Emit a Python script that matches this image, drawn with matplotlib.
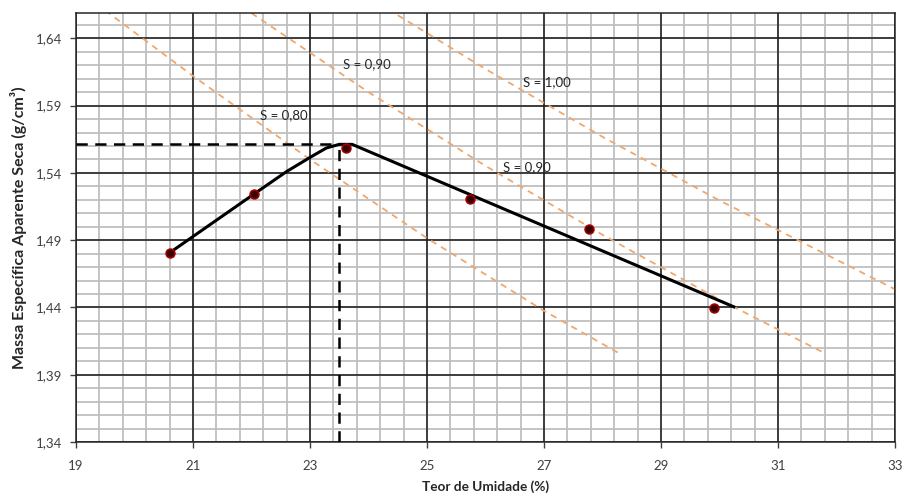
import matplotlib
matplotlib.use("Agg")
import matplotlib.pyplot as plt
import numpy as np
from matplotlib.ticker import FixedLocator, NullLocator

plt.rcParams['font.family'] = ['Lato', 'DejaVu Sans']

# Measured compaction points
umidade = [20.6, 22.04, 23.61, 25.73, 27.77, 29.91]
massa = [1.4806, 1.5242, 1.5587, 1.5205, 1.4983, 1.4398]

# Hand-fitted compaction curve
curva_x = [20.6, 22.04, 22.6, 23.0, 23.28, 23.5, 23.72, 30.27]
curva_y = [1.4806, 1.5242, 1.5410, 1.5515, 1.5585, 1.5612, 1.5612, 1.4400]

# Optimum
w_ot = 23.5
gd_max = 1.5612

# Saturation curves
s80_x = [19.5, 21.0, 23.0, 25.0, 27.0, 28.3]
s80_y = [1.6607, 1.6120, 1.5500, 1.4915, 1.4375, 1.4055]
s90_x = [22.0, 24.0, 26.0, 28.0, 30.0, 31.8]
s90_y = [1.6587, 1.6000, 1.5452, 1.4940, 1.4458, 1.4060]
s100_x = [24.5, 26.0, 28.0, 30.0, 33.0]
s100_y = [1.6572, 1.6172, 1.5668, 1.5195, 1.4535]

labels = ["S = 0,80", "S = 0,90", "S = 1,00", "S = 0,90"]
label_x = [22.15, 23.56, 26.64, 26.30]
label_y = [1.5830, 1.6208, 1.6077, 1.5445]

x_ticks = [19, 21, 23, 25, 27, 29, 31, 33]
y_ticks = [1.34, 1.39, 1.44, 1.49, 1.54, 1.59, 1.64]

x_min, x_max, x_minor = 19, 33, 0.4
y_min, y_max, y_minor = 1.34, 1.6586, 0.01

fig = plt.figure(figsize=(9.03, 4.96), dpi=100)
ax = fig.add_axes([76/903, 1-442/496, (895-76)/903, (442-13.3)/496])

ax.set_xlim(x_min, x_max)
ax.set_ylim(y_min, y_max)

ax.xaxis.set_major_locator(FixedLocator(x_ticks))
ax.yaxis.set_major_locator(FixedLocator(y_ticks))
ax.xaxis.set_minor_locator(NullLocator())
ax.yaxis.set_minor_locator(NullLocator())
ax.set_xticklabels([str(v) for v in x_ticks])
ax.set_yticklabels([f"{v:.2f}".replace('.', ',') for v in y_ticks])

# minor grid (drawn beneath the major grid)
xm = np.arange(x_min, x_max + 1e-9, x_minor)
ym = np.arange(y_min, y_max, y_minor)
ax.vlines(xm, y_min, y_max, colors='#bfbfbf', lw=1.3, zorder=0.1)
ax.hlines(ym, x_min, x_max, colors='#bfbfbf', lw=1.3, zorder=0.1)

ax.grid(which='major', color='#1a1a1a', lw=1.1)
ax.set_axisbelow(True)

ax.tick_params(which='major', direction='out', length=4, width=1, color='#404040',
               labelsize=9.5, labelcolor='#404040')
ax.tick_params(axis='y', pad=6)
ax.tick_params(axis='x', pad=9)
for sp in ax.spines.values():
    sp.set_color('#262626')
    sp.set_linewidth(1.1)

orange = '#f0a76c'
for xs, ys in [(s80_x, s80_y), (s90_x, s90_y), (s100_x, s100_y)]:
    ax.plot(xs, ys, color=orange, lw=1.3, ls=(0, (3.5, 3)), zorder=2)

ax.plot(curva_x, curva_y, color='black', lw=2.2, zorder=3, solid_capstyle='butt')

ax.plot([x_min, w_ot], [gd_max, gd_max], color='black', lw=1.8, ls=(0, (4.5, 3)), zorder=3)
ax.plot([w_ot, w_ot], [y_min, gd_max], color='black', lw=1.8, ls=(0, (4.5, 3)), zorder=3)

ax.scatter(umidade, massa, s=40, color='#3a0000', edgecolors='#a00000', linewidths=1.2, zorder=4)

for t, x, y in zip(labels, label_x, label_y):
    ax.text(x, y, t, fontsize=9.5, color='#262626', ha='left', va='center', zorder=5)

ax.set_xlabel("Teor de Umidade (%)", fontsize=9.8, fontweight='bold', color='#262626', labelpad=6)
ax.set_ylabel("Massa Específica Aparente Seca (g/cm³)", fontsize=11.5, fontweight='bold',
              color='#262626', labelpad=6)

fig.savefig("out.png", dpi=100)
